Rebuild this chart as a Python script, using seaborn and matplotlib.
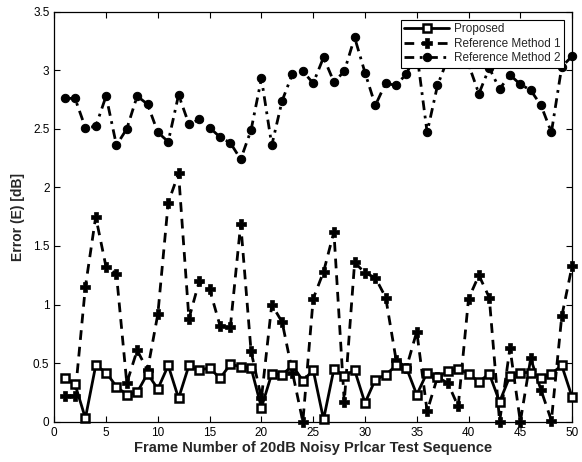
import numpy as np
import pandas as pd
import matplotlib
matplotlib.use("Agg")
import matplotlib.pyplot as plt
import seaborn as sns

frames = list(range(1, 51))

proposed = [0.37, 0.32, 0.03, 0.48, 0.42, 0.30, 0.23, 0.25, 0.41, 0.28,
            0.48, 0.20, 0.48, 0.44, 0.46, 0.37, 0.49, 0.47, 0.46, 0.12,
            0.41, 0.40, 0.48, 0.35, 0.44, 0.02, 0.45, 0.39, 0.44, 0.16,
            0.36, 0.40, 0.48, 0.46, 0.23, 0.42, 0.38, 0.43, 0.45, 0.41,
            0.34, 0.41, 0.17, 0.39, 0.42, 0.42, 0.37, 0.41, 0.48, 0.21]

ref_method_1 = [0.22, 0.22, 1.15, 1.75, 1.32, 1.26, 0.33, 0.61, 0.44, 0.92,
                1.87, 2.12, 0.88, 1.20, 1.13, 0.82, 0.81, 1.69, 0.60, 0.20,
                1.00, 0.85, 0.42, 0.00, 1.05, 1.28, 1.62, 0.17, 1.36, 1.27,
                1.23, 1.06, 0.53, 0.46, 0.77, 0.09, 0.38, 0.33, 0.13, 1.05,
                1.25, 1.06, 0.00, 0.63, 0.00, 0.54, 0.27, 0.01, 0.90, 1.33]

ref_method_2 = [2.76, 2.76, 2.51, 2.52, 2.78, 2.36, 2.50, 2.78, 2.71, 2.47,
                2.39, 2.79, 2.54, 2.58, 2.51, 2.43, 2.38, 2.24, 2.49, 2.93,
                2.36, 2.74, 2.97, 2.99, 2.89, 3.11, 2.90, 2.99, 3.28, 2.98,
                2.70, 2.89, 2.87, 2.97, 3.15, 2.47, 2.87, 3.10, 3.12, 3.05,
                2.80, 3.02, 2.84, 2.96, 2.88, 2.83, 2.70, 2.47, 3.03, 3.12]

x_ticks = list(range(0, 51, 5))
y_ticks = [0, 0.5, 1, 1.5, 2, 2.5, 3, 3.5]

sns.set_style("ticks")
plt.rcParams["font.family"] = ["Liberation Sans", "DejaVu Sans"]

fig = plt.figure(figsize=(5.82, 4.62), dpi=100)
ax = fig.add_axes([0.0933, 0.0872, 0.8897, 0.8875])

sns.lineplot(x=frames, y=proposed, ax=ax, color="black", linestyle="-",
             linewidth=2, marker="s", markersize=5.5, markerfacecolor="white",
             markeredgecolor="black", markeredgewidth=1.8, label="Proposed",
             clip_on=False, zorder=3)
sns.lineplot(x=frames, y=ref_method_1, ax=ax, color="black", linestyle=(0, (3.5, 2.5)),
             linewidth=2, marker="P", markersize=6.5, markerfacecolor="black",
             markeredgecolor="black", markeredgewidth=0.5,
             label="Reference Method 1", clip_on=False, zorder=2)
sns.lineplot(x=frames, y=ref_method_2, ax=ax, color="black",
             linestyle=(0, (3.5, 2, 1, 2)),
             linewidth=2, marker="o", markersize=6, markerfacecolor="black",
             markeredgecolor="black", label="Reference Method 2",
             clip_on=False, zorder=2)

ax.set_xlim(0, 50)
ax.set_ylim(0, 3.5)
ax.set_xticks(x_ticks)
ax.set_yticks(y_ticks)
ax.set_yticklabels([f"{v:g}" for v in y_ticks])
ax.tick_params(direction="in", top=True, right=True, length=4, width=0.8,
               labelsize=8.5, colors="black")
for s in ax.spines.values():
    s.set_linewidth(0.9)
    s.set_color("black")

ax.set_xlabel("Frame Number of 20dB Noisy Prlcar Test Sequence",
              fontsize=10.5, fontweight="bold", labelpad=2)
ax.set_ylabel("Error (E) [dB]", fontsize=10, fontweight="bold", labelpad=6)

leg = ax.legend(loc="upper right", fontsize=8.5, handlelength=3.8,
                frameon=True, fancybox=False, framealpha=1, edgecolor="black",
                borderaxespad=0.7, borderpad=0.3, labelspacing=0.2,
                handletextpad=0.4)
leg.get_frame().set_linewidth(0.8)
leg.set_zorder(5)

plt.savefig("out.png", dpi=100)
plt.close()
